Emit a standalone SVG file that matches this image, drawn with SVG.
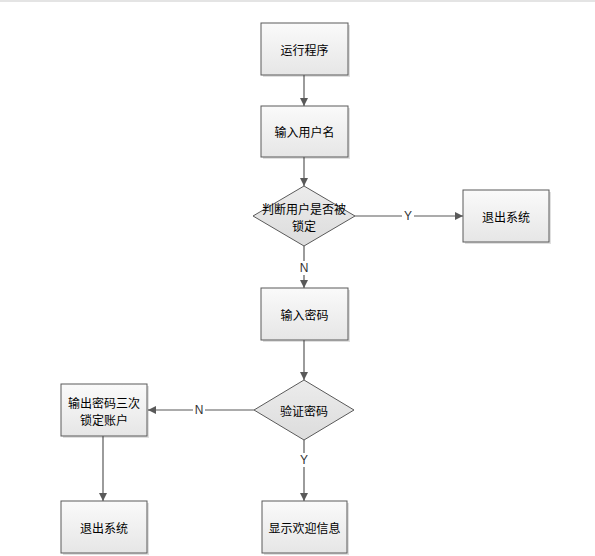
<svg xmlns="http://www.w3.org/2000/svg" width="595" height="556" viewBox="0 0 595 556">
<style>
.box{fill:url(#g);stroke:#5a5a5a;stroke-width:1}
.dia{fill:url(#gd);stroke:#5a5a5a;stroke-width:1}
.sh{fill:#000;opacity:0.12}
.t{font-family:"Noto Sans CJK SC","Microsoft YaHei",sans-serif;font-size:12px;fill:#000;text-anchor:middle;dominant-baseline:central}
.lb{font-family:"Liberation Sans",Arial,sans-serif;font-size:12px;fill:#333;text-anchor:middle;dominant-baseline:central}
.c{stroke:#595959;stroke-width:1.2;fill:none}
</style>
<defs>
<linearGradient id="g" x1="0" y1="0" x2="0" y2="1"><stop offset="0" stop-color="#fafafa"/><stop offset="1" stop-color="#e6e6e6"/></linearGradient>
<linearGradient id="gd" x1="0" y1="0" x2="0" y2="1"><stop offset="0" stop-color="#ececec"/><stop offset="1" stop-color="#dcdcdc"/></linearGradient>
<marker id="a" viewBox="0 0 10 10" refX="10" refY="5" markerWidth="8" markerHeight="8" markerUnits="userSpaceOnUse" orient="auto"><path d="M0,0 L10,5 L0,10 z" fill="#595959"/></marker>
</defs>
<rect x="0" y="0" width="595" height="2" fill="#e4e4e4"/>
<g id="connectors">
<line class="c" x1="304" y1="75" x2="304" y2="106" marker-end="url(#a)"/>
<line class="c" x1="304" y1="157" x2="304" y2="186" marker-end="url(#a)"/>
<line class="c" x1="355" y1="216" x2="402" y2="216"/>
<line class="c" x1="414" y1="216" x2="463" y2="216" marker-end="url(#a)"/>
<text class="lb" x="408" y="216">Y</text>
<line class="c" x1="304" y1="246" x2="304" y2="261"/>
<line class="c" x1="304" y1="275" x2="304" y2="288" marker-end="url(#a)"/>
<text class="lb" x="304" y="268">N</text>
<line class="c" x1="304" y1="340" x2="304" y2="380" marker-end="url(#a)"/>
<line class="c" x1="254" y1="410" x2="205" y2="410"/>
<line class="c" x1="193" y1="410" x2="148" y2="410" marker-end="url(#a)"/>
<text class="lb" x="199" y="410">N</text>
<line class="c" x1="103" y1="436" x2="103" y2="501" marker-end="url(#a)"/>
<line class="c" x1="304" y1="440" x2="304" y2="453"/>
<line class="c" x1="304" y1="467" x2="304" y2="501" marker-end="url(#a)"/>
<text class="lb" x="304" y="460">Y</text>
</g>
<g id="start">
<rect class="sh" x="263" y="25" width="87" height="52"/>
<rect class="box" x="261" y="23" width="87" height="52"/>
<text class="t" x="304.5" y="49">运行程序</text>
</g>
<g id="input-user">
<rect class="sh" x="263" y="108" width="87" height="51"/>
<rect class="box" x="261" y="106" width="87" height="51"/>
<text class="t" x="304.5" y="131.5">输入用户名</text>
</g>
<g id="check-locked">
<polygon class="dia" points="304,186 355,216 304,246 253,216"/>
<text class="t" x="304" y="208">判断用户是否被</text>
<text class="t" x="304" y="225">锁定</text>
</g>
<g id="exit1">
<rect class="sh" x="465" y="192" width="86" height="52"/>
<rect class="box" x="463" y="190" width="86" height="52"/>
<text class="t" x="506" y="216">退出系统</text>
</g>
<g id="input-pwd">
<rect class="sh" x="263" y="290" width="87" height="52"/>
<rect class="box" x="261" y="288" width="87" height="52"/>
<text class="t" x="304.5" y="314">输入密码</text>
</g>
<g id="verify">
<polygon class="dia" points="304,380 354,410 304,440 254,410"/>
<text class="t" x="304" y="410">验证密码</text>
</g>
<g id="lock">
<rect class="sh" x="63" y="386" width="86" height="52"/>
<rect class="box" x="61" y="384" width="86" height="52"/>
<text class="t" x="104" y="402">输出密码三次</text>
<text class="t" x="104" y="419">锁定账户</text>
</g>
<g id="exit2">
<rect class="sh" x="63" y="503" width="86" height="52"/>
<rect class="box" x="61" y="501" width="86" height="52"/>
<text class="t" x="104" y="527">退出系统</text>
</g>
<g id="welcome">
<rect class="sh" x="264" y="503" width="85" height="52"/>
<rect class="box" x="262" y="501" width="85" height="52"/>
<text class="t" x="304.5" y="527">显示欢迎信息</text>
</g>
</svg>
